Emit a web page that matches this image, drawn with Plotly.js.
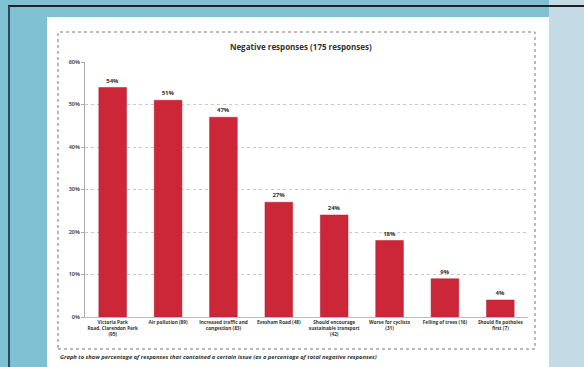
<!DOCTYPE html>
<html><head><meta charset="utf-8">
<script src="https://cdn.plot.ly/plotly-3.0.1.min.js"></script>
<style>html,body{margin:0;padding:0;background:#7fc0d3;}#chart{width:584px;height:367px;}</style>
</head><body><div id="chart"></div>
<script>
const categories = [
  "Victoria Park<br>Road, Clarendon Park<br>(95)",
  "Air pollution (89)",
  "Increased traffic and<br>congestion (83)",
  "Evesham Road (48)",
  "Should encourage<br>sustainable transport<br>(42)",
  "Worse for cyclists<br>(31)",
  "Felling of trees (16)",
  "Should fix potholes<br>first (7)"
];
const percentValues = [54, 51, 47, 27, 24, 18, 9, 4];
const barLabels = ["54%", "51%", "47%", "27%", "24%", "18%", "9%", "4%"];
const tickValues = [0, 10, 20, 30, 40, 50, 60];
const tickLabels = ["0%", "10%", "20%", "30%", "40%", "50%", "60%"];
const chartTitle = "Negative responses (175 responses)";
const caption = "Graph to show percentage of responses that contained a certain issue (as a percentage of total negative responses)";

const font = "Open Sans, Liberation Sans, sans-serif";

const trace = {
  type: "bar",
  x: categories,
  y: percentValues,
  text: barLabels,
  textposition: "outside",
  cliponaxis: false,
  textfont: {family: font, size: 6, color: "#333", weight: "bold"},
  marker: {color: "#cc2639", line: {color: "#b51f30", width: 0.5}},
  hoverinfo: "none"
};

const layout = {
  width: 584, height: 367,
  margin: {l: 85, r: 56, t: 62, b: 50},
  paper_bgcolor: "#7fc0d3",
  plot_bgcolor: "rgba(0,0,0,0)",
  bargap: 0.5,
  showlegend: false,
  title: {text: "<b>" + chartTitle + "</b>", font: {family: font, size: 8, color: "#333"}, x: 0.515, xanchor: "center", y: 0.872, yanchor: "middle"},
  xaxis: {
    tickfont: {family: font, size: 4.7, color: "#333", weight: "bold"},
    showline: true, linecolor: "#bbb", linewidth: 1,
    ticks: "", tickangle: 0, automargin: false
  },
  yaxis: {
    range: [0, 60],
    tickvals: tickValues, ticktext: tickLabels,
    tickfont: {family: font, size: 5.5, color: "#555", weight: "bold"},
    showgrid: true, gridcolor: "#c8c8c8", griddash: "dot", gridwidth: 1,
    showline: true, linecolor: "#aaa", linewidth: 1,
    ticks: "outside", ticklen: 3, tickcolor: "#aaa",
    zeroline: false, automargin: false
  },
  shapes: [
    {type: "rect", xref: "paper", yref: "paper", layer: "below", x0: (549-85)/443, x1: (584-85)/443, y0: -1, y1: 2, fillcolor: "#c4dbe5", line: {width: 0}},
    {type: "rect", xref: "paper", yref: "paper", layer: "below", x0: (47-85)/443, x1: (549-85)/443, y0: (317-367)/255, y1: (317-17)/255, fillcolor: "#ffffff", line: {width: 0}},
    {type: "rect", xref: "paper", yref: "paper", layer: "below", x0: (58-85)/443, x1: (535-85)/443, y0: (317-349)/255, y1: (317-32)/255, fillcolor: "rgba(0,0,0,0)", line: {color: "#777", width: 1, dash: "dot"}},
    {type: "line", xref: "paper", yref: "paper", layer: "above", x0: (8-85)/443, x1: (584-85)/443, y0: (317-6)/255, y1: (317-6)/255, line: {color: "#222", width: 2}},
    {type: "line", xref: "paper", yref: "paper", layer: "above", x0: (9-85)/443, x1: (9-85)/443, y0: (317-6)/255, y1: (317-367)/255, line: {color: "#2a4a55", width: 2}}
  ],
  annotations: [
    {xref: "paper", yref: "paper", x: (58-85)/443, y: (317-357)/255, xanchor: "left", yanchor: "middle", showarrow: false,
     text: "<b><i>" + caption + "</i></b>", font: {family: font, size: 5.8, color: "#333"}}
  ]
};

Plotly.newPlot("chart", [trace], layout, {displayModeBar: false, staticPlot: true});
</script>
</body></html>
